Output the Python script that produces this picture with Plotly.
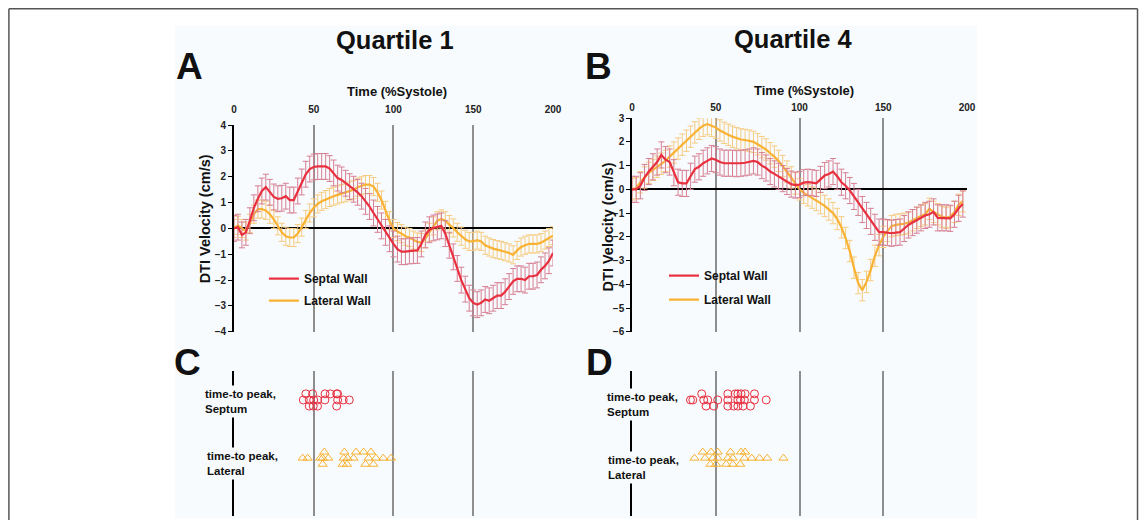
import plotly.graph_objects as go

W, H = 1148, 526
# measured mapping of the rendered snapshot (output = S * design + B); invert so marks land on target pixels
SX, BX = 0.9894, 2.1
SY, BY = 0.9743, 6.2


def X(px):
    return min(max((px - BX) / SX / W, 0), 1)


def Y(py):
    return min(max(1 - (py - BY) / SY / H, 0), 1)


# ---------------- data ----------------
time_pct = [i * 2.5 for i in range(81)]  # 0 .. 200 %systole

q1_septal = [0, 0.05, -0.25, -0.15, 0.3, 0.8, 1.15, 1.45, 1.6, 1.4,
             1.22, 1.15, 1.17, 1.25, 1.1, 1.1, 1.45, 1.8, 2.1, 2.3,
             2.38, 2.4, 2.4, 2.4, 2.32, 2.15, 1.95, 1.88, 1.75, 1.62,
             1.52, 1.4, 1.25, 1.05, 0.85, 0.6, 0.35, 0.1, -0.15, -0.4,
             -0.6, -0.8, -0.9, -0.9, -0.87, -0.86, -0.85, -0.6, -0.25, -0.05,
             0.02, 0.06, 0.1, -0.2, -0.65, -1.1, -1.55, -2.0, -2.35, -2.7,
             -2.88, -2.95, -2.88, -2.75, -2.8, -2.7, -2.6, -2.6, -2.45, -2.25,
             -2.05, -1.95, -1.95, -2.0, -1.85, -1.85, -1.8, -1.6, -1.45, -1.25,
             -0.95]
q1_lateral = [0, 0.12, 0.0, -0.1, 0.2, 0.55, 0.75, 0.75, 0.7, 0.55,
              0.35, 0.1, -0.15, -0.3, -0.35, -0.35, -0.2, 0.05, 0.35, 0.6,
              0.8, 0.95, 1.05, 1.12, 1.2, 1.25, 1.3, 1.35, 1.38, 1.45,
              1.5, 1.6, 1.65, 1.7, 1.7, 1.62, 1.4, 1.1, 0.7, 0.3,
              0.0, -0.12, -0.2, -0.3, -0.35, -0.45, -0.52, -0.55, -0.4, -0.15,
              0.1, 0.3, 0.37, 0.3, 0.15, 0.02, -0.15, -0.3, -0.42, -0.5,
              -0.5, -0.45, -0.5, -0.65, -0.72, -0.78, -0.82, -0.85, -0.9, -0.95,
              -1.02, -0.85, -0.72, -0.65, -0.6, -0.6, -0.6, -0.55, -0.45, -0.35,
              -0.28]
q4_septal = [0, 0.0, 0.15, 0.5, 0.75, 0.95, 1.15, 1.45, 1.25, 1.15,
             0.7, 0.3, 0.25, 0.25, 0.55, 0.85, 0.95, 1.1, 1.2, 1.3,
             1.25, 1.15, 1.1, 1.1, 1.1, 1.08, 1.1, 1.12, 1.15, 1.2,
             1.15, 1.0, 0.9, 0.75, 0.65, 0.55, 0.45, 0.33, 0.22, 0.18,
             0.2, 0.28, 0.3, 0.28, 0.25, 0.42, 0.58, 0.65, 0.75, 0.55,
             0.3, 0.15, -0.05, -0.3, -0.55, -0.85, -1.1, -1.35, -1.6, -1.8,
             -1.8, -1.82, -1.85, -1.82, -1.8, -1.65, -1.5, -1.4, -1.3, -1.2,
             -1.1, -1.05, -0.95, -1.2, -1.2, -1.2, -1.22, -1.05, -0.8, -0.62]
q4_lateral = [0, 0.05, 0.3, 0.5, 0.7, 0.82, 0.95, 1.08, 1.2, 1.38,
              1.55, 1.72, 1.88, 2.05, 2.22, 2.4, 2.55, 2.68, 2.75, 2.68,
              2.6, 2.48, 2.38, 2.3, 2.22, 2.15, 2.1, 2.08, 2.05, 2.0,
              1.9, 1.78, 1.68, 1.52, 1.38, 1.2, 0.98, 0.75, 0.5, 0.25,
              0.0, -0.15, -0.25, -0.35, -0.45, -0.58, -0.7, -0.85, -1.0, -1.25,
              -1.6, -2.05, -2.6, -3.3, -3.95, -4.25, -3.9, -3.4, -2.8, -2.35,
              -2.0, -1.75, -1.55, -1.5, -1.48, -1.45, -1.4, -1.3, -1.2, -1.12,
              -1.05, -0.82, -0.95, -1.05, -1.15, -1.2, -1.15, -0.95, -0.65, -0.5]

q1_septal_sd = 0.5
q1_lateral_sd = 0.35
q4_septal_sd = 0.55
q4_lateral_sd = 0.45

# time-to-peak (%systole) of individual patients, with beeswarm row (+1 top, 0 mid, -1 bottom)
q1_ttp_septum = [45.1, 49.3, 57.1, 60.4, 64.4, 65.0,
                 43.5, 47.2, 50.0, 52.5, 57.0, 65.0, 68.5, 72.3,
                 47.2, 49.7, 52.4, 64.4]
q1_ttp_septum_row = [1, 1, 1, 1, 1, 1,
                     0, 0, 0, 0, 0, 0, 0, 0,
                     -1, -1, -1, -1]
q1_ttp_lateral = [56.6, 69.2, 76.5, 81.3, 85.9,
                  43.1, 46.2, 54.1, 55.6, 59.1, 68.8, 71.3, 75.0, 84.4, 89.0, 93.6, 98.4,
                  55.6, 68.2, 70.9, 82.4, 87.4]
q1_ttp_lateral_row = [1, 1, 1, 1, 1,
                      0, 0, 0, 0, 0, 0, 0, 0, 0, 0, 0, 0,
                      -1, -1, -1, -1, -1]
q4_ttp_septum = [41.6, 57.2, 61.6, 63.2, 65.1, 67.5, 73.1,
                 34.9, 36.3, 42.8, 45.2, 51.2, 57.2, 63.2, 64.8, 67.1, 73.1, 80.1,
                 44.2, 48.8, 57.2, 60.8, 63.2, 66.3, 70.7]
q4_ttp_septum_row = [1, 1, 1, 1, 1, 1, 1,
                     0, 0, 0, 0, 0, 0, 0, 0, 0, 0, 0,
                     -1, -1, -1, -1, -1, -1, -1]
q4_ttp_lateral = [42.2, 47.2, 51.2, 58.8, 65.1, 67.5,
                  37.3, 43.6, 48.2, 51.2, 57.2, 60.2, 67.1, 71.5, 76.1, 80.7, 90.4,
                  46.8, 50.2, 56.2, 60.2, 64.6]
q4_ttp_lateral_row = [1, 1, 1, 1, 1, 1,
                      0, 0, 0, 0, 0, 0, 0, 0, 0, 0, 0,
                      -1, -1, -1, -1, -1]

x_ticks = [0, 50, 100, 150, 200]

# ---------------- style ----------------
FONT = "Liberation Sans, Arial, sans-serif"
PANEL_BG = "#F7FBFD"
RED = "#E8303F"
RED_BAR = "#D77F93"
ORANGE = "#F9B233"
ORANGE_BAR = "#F6CB80"
GRID = "#8E8E8E"

fig = go.Figure()


def add_curve(y, sd, name, color, barcolor, xa, ya, legend):
    fig.add_trace(go.Scatter(
        x=time_pct[:len(y)], y=y, mode="lines", name=name,
        line=dict(color=color, width=2.2),
        error_y=dict(type="constant", value=sd, color=barcolor, thickness=1, width=3),
        xaxis=xa, yaxis=ya, legend=legend, showlegend=True))


add_curve(q1_lateral, q1_lateral_sd, "Lateral Wall", ORANGE, ORANGE_BAR, "x", "y", "legend2")
add_curve(q1_septal, q1_septal_sd, "Septal Wall", RED, RED_BAR, "x", "y", "legend")
add_curve(q4_lateral, q4_lateral_sd, "Lateral Wall", ORANGE, ORANGE_BAR, "x2", "y2", "legend4")
add_curve(q4_septal, q4_septal_sd, "Septal Wall", RED, RED_BAR, "x2", "y2", "legend3")

SEPT_BASE, LAT_BASE, ROW_STEP = 0.8, 0.4, 0.042


def add_swarm(t, rows, base, symbol, color, xa, ya):
    fig.add_trace(go.Scatter(
        x=t, y=[base + r * ROW_STEP for r in rows], mode="markers",
        marker=dict(symbol=symbol, size=8, color=color, line=dict(color=color, width=1)),
        xaxis=xa, yaxis=ya, showlegend=False))


add_swarm(q1_ttp_septum, q1_ttp_septum_row, SEPT_BASE, "circle-open", RED, "x3", "y3")
add_swarm(q1_ttp_lateral, q1_ttp_lateral_row, LAT_BASE, "triangle-up-open", ORANGE, "x3", "y3")
add_swarm(q4_ttp_septum, q4_ttp_septum_row, SEPT_BASE, "circle-open", RED, "x4", "y4")
add_swarm(q4_ttp_lateral, q4_ttp_lateral_row, LAT_BASE, "triangle-up-open", ORANGE, "x4", "y4")

tickfont = dict(family=FONT, size=10, color="#222", weight="bold")

xa_common = dict(range=[0, 200], tickvals=x_ticks, showgrid=True, gridcolor=GRID, gridwidth=1.5,
                 zeroline=False, showline=False, ticks="", tickfont=tickfont, fixedrange=True)
ya_common = dict(showline=True, linecolor="black", linewidth=1.5, ticks="outside", ticklen=4,
                 tickcolor="black", tickwidth=1, showgrid=False, zeroline=True,
                 zerolinecolor="black", zerolinewidth=1.5, dtick=1, tickfont=tickfont,
                 fixedrange=True)
ya_swarm = dict(range=[0, 1], showline=True, linecolor="black", linewidth=1.5, ticks="",
                showticklabels=False, showgrid=False, zeroline=False, fixedrange=True)

fig.update_layout(
    width=W, height=H, autosize=False, margin=dict(l=0, r=0, t=0, b=0, pad=0),
    paper_bgcolor="white", plot_bgcolor=PANEL_BG,
    font=dict(family=FONT, color="#111"),
    xaxis=dict(domain=[X(233), X(552)], anchor="y", side="top", ticklabelstandoff=9, **xa_common),
    yaxis=dict(domain=[Y(331), Y(125)], anchor="x", range=[-4, 4], **ya_common),
    xaxis2=dict(domain=[X(631), X(966)], anchor="y2", side="top", ticklabelstandoff=4, **xa_common),
    yaxis2=dict(domain=[Y(331), Y(118)], anchor="x2", range=[-6, 3], **ya_common),
    xaxis3=dict(domain=[X(233), X(552)], anchor="y3", showticklabels=False,
                **{k: v for k, v in xa_common.items() if k != "tickfont"}),
    yaxis3=dict(domain=[Y(515), Y(370)], anchor="x3", **ya_swarm),
    xaxis4=dict(domain=[X(631), X(966)], anchor="y4", showticklabels=False,
                **{k: v for k, v in xa_common.items() if k != "tickfont"}),
    yaxis4=dict(domain=[Y(515), Y(370)], anchor="x4", **ya_swarm),
)

leg_font = dict(family=FONT, size=12, color="#111", weight="bold")
for key, lx, ly in [("legend", 263, 278), ("legend2", 263, 300),
                    ("legend3", 663, 275), ("legend4", 663, 299)]:
    fig.update_layout({key: dict(x=X(lx), y=Y(ly), xanchor="left", yanchor="middle",
                                 bgcolor="rgba(0,0,0,0)", borderwidth=0, font=leg_font,
                                 tracegroupgap=0)})

# background panel and frame
fig.add_shape(type="rect", xref="paper", yref="paper", x0=X(174), x1=X(976), y0=Y(517), y1=Y(26),
              fillcolor=PANEL_BG, line=dict(width=0), layer="below")
FR = 1146.5 / W  # right frame edge (as far right as the canvas allows)
for x0, y0, x1, y1 in [(X(8), Y(9), FR, Y(9)), (X(8), Y(9), X(8), 0), (FR, Y(9), FR, 0)]:
    fig.add_shape(type="line", xref="paper", yref="paper", x0=x0, x1=x1, y0=y0, y1=y1,
                  line=dict(color="#555", width=1.5))


def ann(text, px, py, size, angle=0, xanchor="center", align="center", bg=None):
    fig.add_annotation(text=text, x=X(px), y=Y(py), xref="paper", yref="paper",
                       showarrow=False, xanchor=xanchor, yanchor="middle", align=align,
                       textangle=angle, bgcolor=bg, borderpad=2,
                       font=dict(family=FONT, size=size, color="#111", weight="bold"))


ann("Quartile 1", 394, 40, 25.5)
ann("Quartile 4", 792, 39, 25.5)
ann("A", 189, 67, 37)
ann("B", 598, 67, 37)
ann("C", 187, 362, 37)
ann("D", 599, 362, 37)
ann("Time (%Systole)", 396, 91, 13)
ann("Time (%Systole)", 803, 90, 13)
ann("DTI Velocity (cm/s)", 204, 218, 14.5, angle=-90)
ann("DTI Velocity (cm/s)", 607, 226, 14.5, angle=-90)
ann("time-to peak,<br>Septum", 201, 401, 11.5, xanchor="left", align="left", bg=PANEL_BG)
ann("time-to peak,<br>Lateral", 203, 462, 11.5, xanchor="left", align="left", bg=PANEL_BG)
ann("time-to peak,<br>Septum", 603, 404, 11.5, xanchor="left", align="left", bg=PANEL_BG)
ann("time-to peak,<br>Lateral", 604, 466, 11.5, xanchor="left", align="left", bg=PANEL_BG)

fig.write_html(
    "out.html",
    config={"displayModeBar": False, "responsive": False},
    post_script=(
        "document.documentElement.style.margin='0';"
        "document.documentElement.style.padding='0';"
        "document.body.style.margin='0';document.body.style.padding='0';"
        "document.documentElement.style.overflow='hidden';"
        "document.body.style.overflow='hidden';"
    ),
)
